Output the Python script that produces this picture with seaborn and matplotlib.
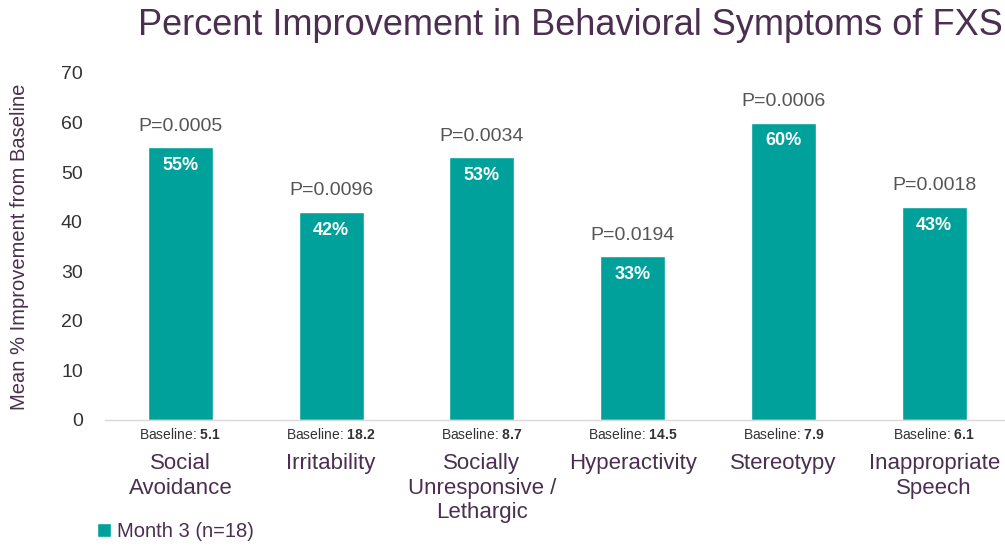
import matplotlib
matplotlib.use('Agg')
import matplotlib.pyplot as plt
import pandas as pd
import seaborn as sns

# Data
categories = ['Social\nAvoidance', 'Irritability', 'Socially\nUnresponsive /\nLethargic',
              'Hyperactivity', 'Stereotypy', 'Inappropriate\nSpeech']
improvement = [55, 42, 53, 33, 60, 43]
pct_labels = ['55%', '42%', '53%', '33%', '60%', '43%']
p_values = ['P=0.0005', 'P=0.0096', 'P=0.0034', 'P=0.0194', 'P=0.0006', 'P=0.0018']
baselines = ['5.1', '18.2', '8.7', '14.5', '7.9', '6.1']
series_name = 'Month 3 (n=18)'

teal = '#00A19A'
purple = '#4B2E50'
grey = '#555555'

sns.set_style('white')
plt.rcParams['font.family'] = ['Liberation Sans', 'DejaVu Sans']
plt.rcParams['mathtext.fontset'] = 'custom'
plt.rcParams['mathtext.rm'] = 'Liberation Sans'
plt.rcParams['mathtext.bf'] = 'Liberation Sans:bold'

df = pd.DataFrame({'category': categories, 'value': improvement})

fig = plt.figure(figsize=(10.05, 5.48), dpi=100)
ax = fig.add_axes([0.1045, 0.2336, 0.8955, 0.6332])

sns.barplot(data=df, x='category', y='value', color=teal, width=0.43,
            saturation=1, label=series_name, ax=ax)

ax.set_ylim(0, 70)
ax.set_xlim(-0.5, 5.47)
ax.set_yticks(range(0, 71, 10))
ax.tick_params(axis='y', length=0, labelsize=14, labelcolor='#333333', pad=16)
ax.tick_params(axis='x', length=0, labelsize=16, labelcolor=purple, pad=24)
ax.set_xlabel('')
ax.set_ylabel('Mean % Improvement from Baseline', fontsize=14.5, color=purple, labelpad=23)
for s in ['top', 'right', 'left']:
    ax.spines[s].set_visible(False)
ax.spines['bottom'].set_color('#D9D9D9')
ax.spines['bottom'].set_linewidth(1)

for i, v in enumerate(improvement):
    ax.annotate(p_values[i], (i, v), xytext=(0, 9), textcoords='offset points',
                ha='center', va='bottom', fontsize=14, color=grey)
    ax.annotate(pct_labels[i], (i, v), xytext=(0, -7), textcoords='offset points',
                ha='center', va='top', fontsize=13, color='white', fontweight='bold')
    ax.annotate(r'Baseline: $\mathbf{' + baselines[i] + '}$', (i, 0), xytext=(0, -5),
                textcoords='offset points', ha='center', va='top', fontsize=10, color='#333333')

fig.suptitle('Percent Improvement in Behavioral Symptoms of FXS', x=0.568, y=0.985,
             fontsize=26, color=purple)

ax.legend(loc='lower left', bbox_to_anchor=(0.078, -0.02), bbox_transform=fig.transFigure,
          frameon=False, fontsize=14.5, handlelength=0.7, handleheight=0.7,
          handletextpad=0.3, labelcolor=purple)

fig.savefig('out.png', dpi=100)
